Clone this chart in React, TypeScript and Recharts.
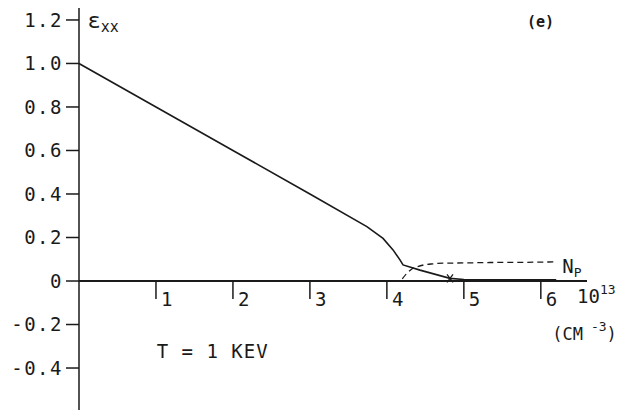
import React from "react"
import { LineChart, Line, XAxis, YAxis, ReferenceLine, ReferenceDot } from "recharts"

// E_xx curve (solid)
const exxX = [0, 1, 2, 3, 3.74, 3.95, 4.08, 4.17, 4.21, 4.43, 4.82, 5.0, 6.0, 6.2]
const exxY = [1.0, 0.8, 0.6, 0.4, 0.25, 0.196, 0.143, 0.097, 0.074, 0.05, 0.012, 0.007, 0.005, 0.005]

// N_p curve (dashed)
const npX = [4.2, 4.26, 4.32, 4.4, 4.48, 4.6, 4.73, 5.0, 5.34, 5.8, 6.21]
const npY = [0.01, 0.035, 0.054, 0.066, 0.074, 0.079, 0.082, 0.083, 0.085, 0.086, 0.088]

const xTicks = [1, 2, 3, 4, 5, 6]
const yTicks = [-0.4, -0.2, 0, 0.2, 0.4, 0.6, 0.8, 1.0, 1.2]

const exxData = exxX.map((x, i) => ({ x, y: exxY[i] }))
const npData = npX.map((x, i) => ({ x, y: npY[i] }))

const FONT = "'DejaVu Sans Mono', monospace"
const INK = "#1a1a1a"

const fmtY = (v: number) => (v === 0 ? "0" : v.toFixed(1))

const XTickMark = (props: any) => {
  const { cx, cy, label } = props
  return (
    <g>
      <line x1={cx} y1={cy} x2={cx} y2={cy + 18} stroke={INK} strokeWidth={1.5} />
      <text x={cx + 5} y={cy + 25} fontFamily={FONT} fontSize={19} fill={INK}>
        {label}
      </text>
    </g>
  )
}

const Note = (props: any) => {
  const { cx, cy, children } = props
  return (
    <text x={cx} y={cy} fontFamily={FONT} fontSize={19} fill={INK} letterSpacing={1}>
      {children}
    </text>
  )
}

export default function App() {
  return (
    <div style={{ position: "absolute", left: 0, top: 0, background: "#fff" }}>
      <LineChart width={623} height={410} margin={{ top: 8, right: 36, bottom: 0, left: 0 }}>
        <XAxis type="number" dataKey="x" domain={[0, 6.6]} hide allowDataOverflow />
        <YAxis
          type="number"
          domain={[-0.593, 1.255]}
          ticks={yTicks}
          allowDataOverflow
          width={79}
          tickSize={13}
          tickMargin={3}
          tickFormatter={fmtY}
          axisLine={{ stroke: INK, strokeWidth: 1.5 }}
          tickLine={{ stroke: INK, strokeWidth: 1.5 }}
          tick={{ fontFamily: FONT, fontSize: 19, fill: INK, letterSpacing: 1.5 }}
        />
        <ReferenceLine y={0} stroke={INK} strokeWidth={2} />
        {xTicks.map((t) => (
          <ReferenceDot
            key={t}
            x={t}
            y={0}
            r={0}
            ifOverflow="visible"
            shape={(p: any) => <XTickMark {...p} label={String(t)} />}
          />
        ))}
        <Line
          data={exxData}
          dataKey="y"
          type="linear"
          stroke={INK}
          strokeWidth={1.6}
          dot={false}
          isAnimationActive={false}
        />
        <Line
          data={npData}
          dataKey="y"
          type="monotone"
          stroke={INK}
          strokeWidth={1.3}
          strokeDasharray="6 4"
          dot={false}
          isAnimationActive={false}
        />
        <ReferenceDot
          x={4.82}
          y={0.012}
          r={0}
          ifOverflow="visible"
          shape={(p: any) => (
            <g stroke={INK} strokeWidth={1.2}>
              <line x1={p.cx - 3} y1={p.cy - 4} x2={p.cx + 3} y2={p.cy + 4} />
              <line x1={p.cx + 3} y1={p.cy - 4} x2={p.cx - 3} y2={p.cy + 4} />
            </g>
          )}
        />
        <ReferenceDot
          x={0.11}
          y={1.163}
          r={0}
          ifOverflow="visible"
          shape={(p: any) => (
            <text x={p.cx} y={p.cy} fontFamily={FONT} fill={INK}>
              <tspan fontSize={22}>ε</tspan>
              <tspan fontSize={15} dy={4}>xx</tspan>
            </text>
          )}
        />
        <ReferenceDot
          x={5.82}
          y={1.168}
          r={0}
          ifOverflow="visible"
          shape={(p: any) => (
            <text x={p.cx} y={p.cy} fontFamily={FONT} fontSize={15} fontWeight="bold" fill={INK}>
              (e)
            </text>
          )}
        />
        <ReferenceDot
          x={6.28}
          y={0.037}
          r={0}
          ifOverflow="visible"
          shape={(p: any) => (
            <text x={p.cx} y={p.cy} fontFamily={FONT} fill={INK}>
              <tspan fontSize={19}>N</tspan>
              <tspan fontSize={13} dy={4}>P</tspan>
            </text>
          )}
        />
        <ReferenceDot
          x={6.47}
          y={-0.1}
          r={0}
          ifOverflow="visible"
          shape={(p: any) => (
            <text x={p.cx} y={p.cy} fontFamily={FONT} fill={INK}>
              <tspan fontSize={19}>10</tspan>
              <tspan fontSize={13} dy={-9}>13</tspan>
            </text>
          )}
        />
        <ReferenceDot
          x={6.15}
          y={-0.27}
          r={0}
          ifOverflow="visible"
          shape={(p: any) => (
            <text x={p.cx} y={p.cy} fontFamily={FONT} fill={INK}>
              <tspan fontSize={17}>(CM</tspan>
              <tspan fontSize={13} dy={-9}> -3</tspan>
              <tspan fontSize={17} dy={9}>)</tspan>
            </text>
          )}
        />
        <ReferenceDot
          x={1.01}
          y={-0.354}
          r={0}
          ifOverflow="visible"
          shape={(p: any) => <Note cx={p.cx} cy={p.cy}>T = 1 KEV</Note>}
        />
      </LineChart>
    </div>
  )
}
